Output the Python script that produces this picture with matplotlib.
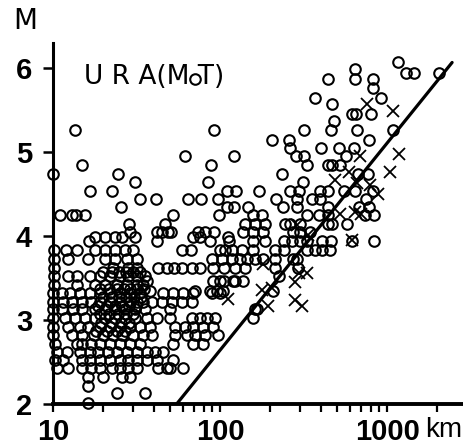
import numpy as np
import matplotlib
matplotlib.use("Agg")
import matplotlib.pyplot as plt
from matplotlib.ticker import FixedLocator, NullFormatter

# circles: one row per magnitude level, distances in km
circle_rows_M = [6.07, 5.99, 5.95, 5.87, 5.77, 5.65, 5.58, 5.46, 5.37, 5.26,
                 5.15, 5.05, 4.95, 4.85, 4.74, 4.64, 4.54, 4.44, 4.35, 4.25,
                 4.15, 4.05, 3.99, 3.94, 3.83, 3.73, 3.62, 3.57, 3.52, 3.46,
                 3.42, 3.37, 3.35, 3.32, 3.27, 3.21, 3.17, 3.13, 3.07, 3.02,
                 2.97, 2.92, 2.87, 2.82, 2.72, 2.62, 2.52, 2.43, 2.32, 2.22,
                 2.13, 2.01]
circle_rows_km = [
    [1160],
    [640],
    [1290, 1450, 2040],
    [640, 445, 825, 71],
    [825],
    [370, 920],
    [470],
    [620, 650, 800],
    [480],
    [460, 660, 1090, 318, 92, 13.5],
    [205, 259, 780],
    [262, 400, 515, 635],
    [62, 122, 285, 318, 570],
    [88, 15, 440, 470, 520, 330],
    [10, 24.5, 235, 670, 770],
    [31, 85, 315],
    [16.6, 22.5, 110, 125, 172, 263, 296, 398, 440, 550, 640, 825],
    [33, 41.5, 64, 77, 97, 217, 288, 355, 398, 750],
    [25.5, 110, 121, 147, 238, 288, 440, 680, 780],
    [11, 13, 13.8, 15.5, 52, 98, 157, 178, 330, 390, 440, 735, 840],
    [28.5, 47, 141, 162, 186, 245, 263, 300, 440, 470, 575],
    [42, 45, 49, 51, 74, 81, 92, 137, 157, 180, 275, 300, 345, 29],
    [17.8, 20.5, 23.5, 26, 31, 69, 76, 112],
    [16.4, 42, 87, 113, 157, 186, 240, 270, 300, 330, 410, 460, 620, 840],
    [10.1, 12, 14, 17.8, 20.5, 23.5, 27, 30, 59, 67, 100, 107, 118, 135,
     157, 214, 240, 330, 370, 405, 455],
    [10.1, 12.3, 16.2, 20.5, 23.5, 27.8, 31.8, 89, 103, 118, 132, 145, 162,
     180, 214, 275, 288],
    [10.1, 22.8, 28, 31.8, 42.5, 48, 53, 59, 68, 76, 91, 106, 123, 141, 214,
     293],
    [20, 22.5, 25, 27.5, 30, 33],
    [10.1, 12.3, 13.9, 16.6, 19.1, 21.9, 25.2, 28, 31.8, 35.6, 225],
    [36.5, 91, 100, 106, 119, 123, 137],
    [10.1, 13.9, 17.8, 20.5, 24, 27.8, 31.8, 34.6],
    [19, 21.5, 24, 26.5, 29, 32, 35],
    [38, 71, 87, 96, 104, 207],
    [10, 11.3, 12.6, 14.5, 16.6, 19.1, 21.9, 25.2, 29, 33.2, 45.5, 52, 60,
     69, 89, 100],
    [20, 22.5, 25, 27.5, 30.5, 33.5],
    [10, 11.5, 13, 15, 17, 19.1, 21.9, 25.2, 29, 31.8, 34.6, 39, 44.8, 51.5,
     59, 68],
    [18.5, 21, 23.5, 26, 28.5, 31.5],
    [10, 11.3, 13.2, 15, 17.8, 20.5, 23.5, 27, 31, 35.6, 50, 162, 167],
    [19, 21.5, 24.5, 27.5, 30],
    [10, 11.8, 13.5, 15.5, 17.8, 20.5, 23.5, 27, 31, 36.5, 42, 50, 68, 76,
     84, 93, 157],
    [19.5, 22.5, 25.5, 28.5],
    [10, 12.3, 14.5, 16.2, 19.1, 21.9, 25.2, 29, 33.2, 38, 54, 62, 69, 79, 91],
    [18, 21, 24, 27],
    [10, 13, 14.9, 17.5, 20, 22.8, 26, 30, 34.6, 39, 54, 63, 71, 81, 97],
    [10.3, 13.9, 15, 17, 19.1, 21.9, 25.2, 29, 33.2, 52, 69, 79],
    [10.6, 12.1, 14.5, 16.6, 18.6, 21.4, 24, 27.8, 31.8, 36.5, 40.8, 45.5],
    [10.3, 11.5, 14.9, 16.6, 19.1, 21.9, 25.2, 28, 31.8, 36.5, 42, 52],
    [10.6, 12.3, 15, 17, 19.1, 22.5, 25.2, 28, 31.8, 42.5, 48, 50, 60],
    [16.2, 20, 26, 29],
    [16.2],
    [24, 35.6],
    [16.2],
]

# crosses
cross_km = [760, 1090, 690, 1180, 1040, 590, 490, 660, 790, 880, 640, 700,
            520, 620, 290, 335, 180, 295, 330, 280, 178, 194, 282, 310, 112,
            205]
cross_M = [5.57, 5.49, 4.96, 4.98, 4.76, 4.76, 4.67, 4.63, 4.61, 4.50, 4.29,
           4.27, 4.27, 3.95, 4.13, 4.01, 3.67, 3.56, 3.56, 3.45, 3.36, 3.17,
           3.24, 3.17, 3.25, 3.38]

# straight line drawn on the figure
line_km = [55, 2450]
line_M = [2.0, 6.07]

y_ticks = [2, 3, 4, 5, 6]
x_major = [10, 100, 1000]
x_labels = ['10', '100', '1000']
x_minor = [20, 30, 40, 50, 60, 70, 80, 90,
           200, 300, 400, 500, 600, 700, 800, 900, 2000]

narrow = ['Liberation Sans', 'DejaVu Sans']

fig = plt.figure(figsize=(4.64, 4.46), dpi=100)
ax = fig.add_axes([0.1142, 0.0942, 0.886, 0.809])

ck = [k for row in circle_rows_km for k in row]
cm = [m for m, row in zip(circle_rows_M, circle_rows_km) for _ in row]
ax.plot(ck, cm, 'o', mfc='none', mec='black', ms=7.6, mew=1.5, clip_on=False)
ax.plot(cross_km, cross_M, 'x', color='black', ms=9, mew=1.3)
ax.plot(line_km, line_M, '-', color='black', lw=2.3, solid_capstyle='round')

ax.set_xscale('log')
ax.set_xlim(10, 2890)
ax.set_ylim(2, 6.3)

for s in ['top', 'right']:
    ax.spines[s].set_visible(False)
ax.spines['left'].set_linewidth(2.2)
ax.spines['bottom'].set_linewidth(2.8)

ax.xaxis.set_major_locator(FixedLocator(x_major))
ax.xaxis.set_minor_locator(FixedLocator(x_minor))
ax.xaxis.set_minor_formatter(NullFormatter())
ax.set_xticklabels(x_labels)
ax.set_yticks(y_ticks)
ax.tick_params(axis='x', which='both', direction='out', length=6, width=1.6,
               pad=4)
ax.tick_params(axis='y', which='major', direction='out', length=7, width=1.8,
               pad=8)
for lab in ax.get_xticklabels() + ax.get_yticklabels():
    lab.set_family(narrow)
    lab.set_fontweight('bold')
    lab.set_fontsize(21)

fig.text(0.028, 0.985, 'M', ha='left', va='top', fontsize=20)
ax.text(0.075, 0.905, 'U R A(M T)', transform=ax.transAxes, ha='left',
        va='center', fontsize=19)
ax.text(0.905, -0.072, 'km', transform=ax.transAxes, ha='left', va='center',
        fontsize=20, family=narrow)

fig.savefig('out.png', dpi=100)
